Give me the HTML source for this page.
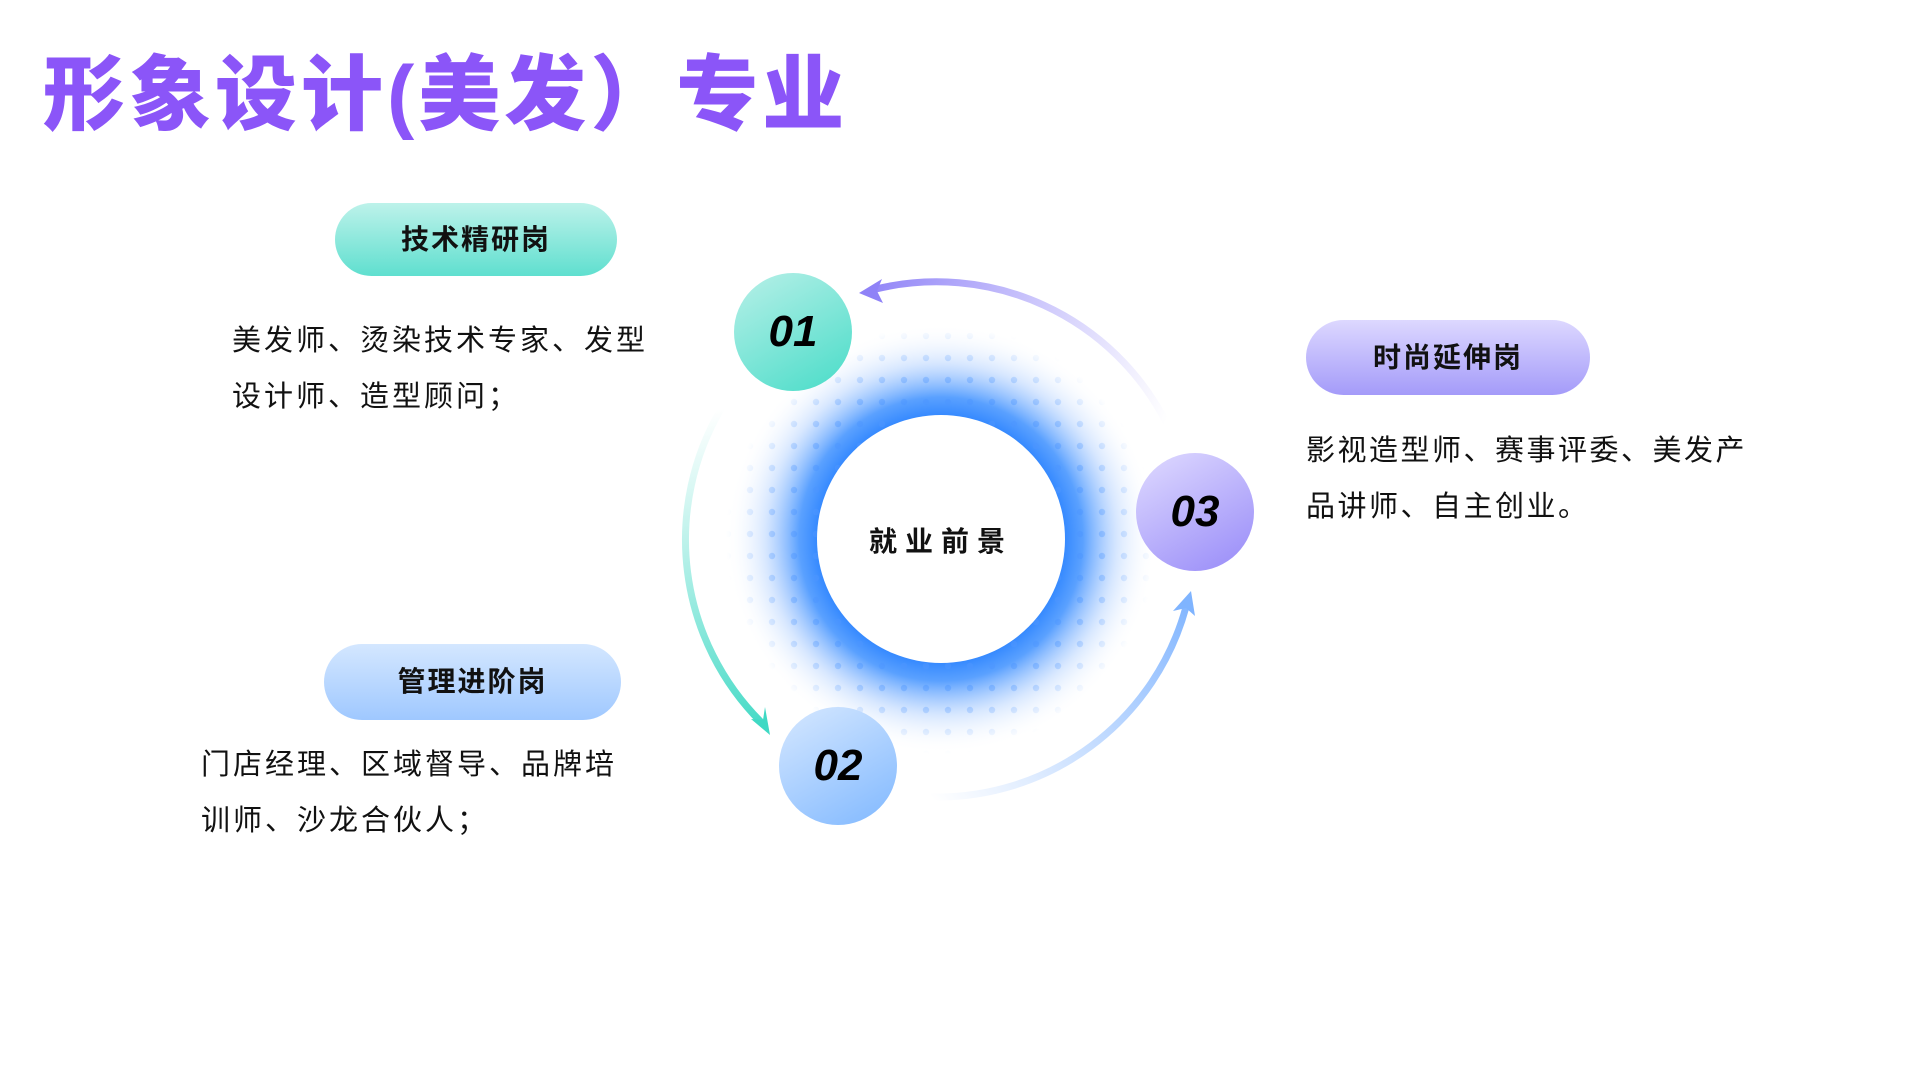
<!DOCTYPE html>
<html><head><meta charset="utf-8"><style>
html,body{margin:0;padding:0;background:#fff;}
body{width:1920px;height:1080px;position:relative;overflow:hidden;font-family:"Liberation Sans","Noto Sans CJK SC",sans-serif;}
.title{position:absolute;left:43px;top:28px;font-size:82px;font-weight:900;color:#8b55f8;letter-spacing:4px;white-space:nowrap;}
.pill{position:absolute;border-radius:40px;font-size:28px;font-weight:bold;color:#111;text-align:center;letter-spacing:2px;}
.txt{position:absolute;font-size:29px;line-height:56px;color:#111;letter-spacing:3px;white-space:nowrap;}
.num{position:absolute;border-radius:50%;display:flex;align-items:center;justify-content:center;font-size:44px;font-weight:bold;font-style:italic;color:#000;}
#dia{position:absolute;left:0;top:0;width:1920px;height:1080px;transform:translate(-9px,-5px);}
</style></head><body>
<div class="title">形象设计(美发）专业</div>

<div class="pill" style="left:335px;top:203px;width:282px;height:73px;line-height:73px;background:linear-gradient(180deg,#bdf2ea,#5fdfcf);">技术精研岗</div>
<div class="txt" style="left:232px;top:313px;">美发师、烫染技术专家、发型<br>设计师、造型顾问；</div>

<div class="pill" style="left:324px;top:644px;width:297px;height:76px;line-height:76px;background:linear-gradient(180deg,#d4e7ff,#9fc8ff);">管理进阶岗</div>
<div class="txt" style="left:201px;top:737px;">门店经理、区域督导、品牌培<br>训师、沙龙合伙人；</div>

<div class="pill" style="left:1306px;top:320px;width:284px;height:75px;line-height:75px;background:linear-gradient(180deg,#ddd8ff,#a49bf9);">时尚延伸岗</div>
<div class="txt" style="left:1306px;top:423px;letter-spacing:2.5px;">影视造型师、赛事评委、美发产<br>品讲师、自主创业。</div>

<div id="dia">
<svg width="1920" height="1080" style="position:absolute;left:0;top:0">
<defs>
<radialGradient id="glow" cx="950" cy="544" r="215" gradientUnits="userSpaceOnUse">
<stop offset="0.55" stop-color="#2a82ff"/>
<stop offset="0.66" stop-color="#3d90ff" stop-opacity="0.85"/>
<stop offset="0.82" stop-color="#8fbcff" stop-opacity="0.35"/>
<stop offset="1" stop-color="#ffffff" stop-opacity="0"/>
</radialGradient>
<radialGradient id="dotfade" cx="950" cy="544" r="215" gradientUnits="userSpaceOnUse">
<stop offset="0.6" stop-color="#fff" stop-opacity="1"/>
<stop offset="1" stop-color="#fff" stop-opacity="0"/>
</radialGradient>
<mask id="dm"><circle cx="950" cy="544" r="215" fill="url(#dotfade)"/></mask>
<pattern id="dots" x="0" y="0" width="22" height="22" patternUnits="userSpaceOnUse">
<circle cx="11" cy="11" r="3.2" fill="#4c95ff" opacity="0.55"/>
</pattern>
<linearGradient id="gp" x1="1175" y1="427" x2="870" y2="297" gradientUnits="userSpaceOnUse">
<stop offset="0" stop-color="#a49bf9" stop-opacity="0"/><stop offset="1" stop-color="#8f82f7"/></linearGradient>
<linearGradient id="gt" x1="730" y1="414" x2="779" y2="738" gradientUnits="userSpaceOnUse">
<stop offset="0" stop-color="#5fdfcf" stop-opacity="0"/><stop offset="1" stop-color="#3fd9c4"/></linearGradient>
<linearGradient id="gb" x1="940" y1="802" x2="1200" y2="598" gradientUnits="userSpaceOnUse">
<stop offset="0" stop-color="#8fbcff" stop-opacity="0"/><stop offset="1" stop-color="#7fb4ff"/></linearGradient>
</defs>
<circle cx="950" cy="544" r="215" fill="url(#glow)"/>
<circle cx="950" cy="544" r="215" fill="url(#dots)" mask="url(#dm)"/>
<circle cx="950" cy="544" r="124" fill="#fff"/>
<text x="950" y="556" text-anchor="middle" font-size="28" font-weight="bold" letter-spacing="8" font-family="Liberation Sans,Noto Sans CJK SC,sans-serif" fill="#111">就业前景</text>

<path d="M1175 427 A258 258 0 0 0 885 294" fill="none" stroke="url(#gp)" stroke-width="7" stroke-linecap="round"/>
<polygon points="868,298 891,284 886,296 892,308" fill="#8f82f7"/>
<path d="M730 414 A258 258 0 0 0 770 727" fill="none" stroke="url(#gt)" stroke-width="7" stroke-linecap="round"/>
<polygon points="779,740 760,724 772,725 774,712" fill="#3fd9c4"/>
<path d="M940 802 A258 258 0 0 0 1195 612" fill="none" stroke="url(#gb)" stroke-width="7" stroke-linecap="round"/>
<polygon points="1200,596 1204,621 1195,613 1182,616" fill="#7fb4ff"/>
</svg>

<div class="num" style="left:743px;top:278px;width:118px;height:118px;background:linear-gradient(150deg,#b8f0e8,#48dcc8);">01</div>
<div class="num" style="left:788px;top:712px;width:118px;height:118px;background:linear-gradient(150deg,#d6e8ff,#80b8ff);">02</div>
<div class="num" style="left:1145px;top:458px;width:118px;height:118px;background:linear-gradient(150deg,#e0dbff,#978af8);">03</div>
</div>
</body></html>
